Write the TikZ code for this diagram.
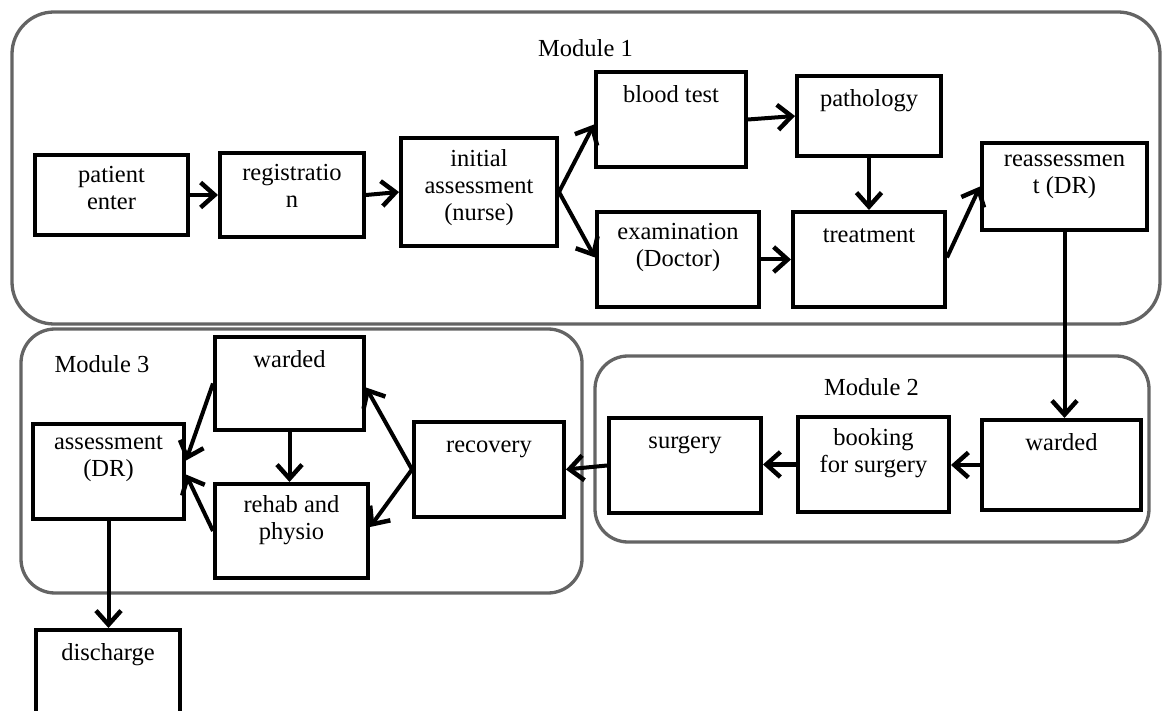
\documentclass[tikz,border=0pt]{standalone}
\usepackage{fontspec}
\setmainfont{Liberation Serif}
\usetikzlibrary{arrows.meta,calc}
\definecolor{contgray}{RGB}{100,100,100}
\tikzset{
  box/.style={draw=black, line width=4pt, rectangle, inner sep=0pt, fill=white},
  lbl/.style={anchor=north, inner sep=0pt, align=center, font=\fontsize{24.5}{27}\selectfont, execute at begin node=\strut},
  cont/.style={draw=contgray, line width=3.3pt},
  modlbl/.style={anchor=base, inner sep=0pt, font=\fontsize{24.5}{27}\selectfont},
  arr/.style={line width=4pt, -{Straight Barb[length=14pt,width=25pt,line width=4.5pt]}},
}
\newcommand\mybox[6]{%
  \node[box, minimum width={(#4-#2)*1pt}, minimum height={(#5-#3)*1pt}] (#1) at ({(#2+#4)/2},{(#3+#5)/2}) {};
  \node[lbl] (#1-t) at ($(#1.north)+(0,13.5)$) {#6};
}
\begin{document}
\begin{tikzpicture}[x=1pt,y=-1pt]
\useasboundingbox (0,0) rectangle (1163,711);
% module containers
\draw[cont, rounded corners=42pt] (12,12) rectangle (1160,324);
\draw[cont, rounded corners=34pt] (21,329) rectangle (582,593);
\draw[cont, rounded corners=33pt] (595,356) rectangle (1149,542);
\node[modlbl] (m1l) at (585.5,57) {Module 1};
\node[modlbl] (m2l) at (871.5,396) {Module 2};
\node[modlbl] (m3l) at (102,373) {Module 3};
% boxes
\mybox{pe}{35}{155}{188}{235}{patient\\enter}
\mybox{reg}{220}{153}{364}{237}{registratio\\n}
\mybox{ia}{401}{138}{557}{246}{initial\\assessment\\(nurse)}
\mybox{bt}{596}{72}{746}{167}{blood test}
\mybox{pa}{797}{76}{941}{156}{pathology}
\mybox{ex}{597}{212}{759}{307}{examination\\(Doctor)}
\mybox{tr}{793}{212}{945}{307}{treatment}
\mybox{ra}{982}{143}{1147}{230}{reassessmen\\t (DR)}
\mybox{wtwo}{982}{420}{1141}{510}{warded}
\mybox{bk}{798}{417}{949}{512}{booking\\for surgery}
\mybox{su}{609}{418}{761}{513}{surgery}
\mybox{rc}{414}{422}{564}{517}{recovery}
\mybox{wthree}{215}{337}{364}{430}{warded}
\mybox{rh}{215}{484}{368}{578}{rehab and\\physio}
\mybox{as}{33}{424}{184}{519}{assessment\\(DR)}
\mybox{dc}{36}{630}{180}{716}{discharge}
% connectors
\draw[arr] (pe.east) -- (pe.east -| reg.west);
\draw[arr] (reg.east) -- (ia.west);
\draw[arr] (ia.east) -- ($(bt.west)+(0,5)$);
\draw[arr] (ia.east) -- ($(ex.west)+(0,-2)$);
\draw[arr] (bt.east) -- (pa.west);
\draw[arr] (pa.south) -- (pa.south |- tr.north);
\draw[arr] (ex.east) -- (ex.east -| tr.west);
\draw[arr] ($(tr.east)+(0,-2)$) -- (ra.west);
\draw[arr] (ra.south) -- (ra.south |- wtwo.north);
\draw[arr] (wtwo.west) -- (wtwo.west -| bk.east);
\draw[arr] (bk.west) -- (bk.west -| su.east);
\draw[arr] (su.west) -- (rc.east);
\draw[arr] (rc.west) -- ($(wthree.east)+(0,4)$);
\draw[arr] (rc.west) -- ($(rh.east)+(0,-4)$);
\draw[arr] (wthree.west) -- ($(as.east)+(0,-11)$);
\draw[arr] (rh.west) -- ($(as.east)+(0,3)$);
\draw[arr] (wthree.south) -- (wthree.south |- rh.north);
\draw[arr] (as.south) -- (as.south |- dc.north);
\end{tikzpicture}
\end{document}
